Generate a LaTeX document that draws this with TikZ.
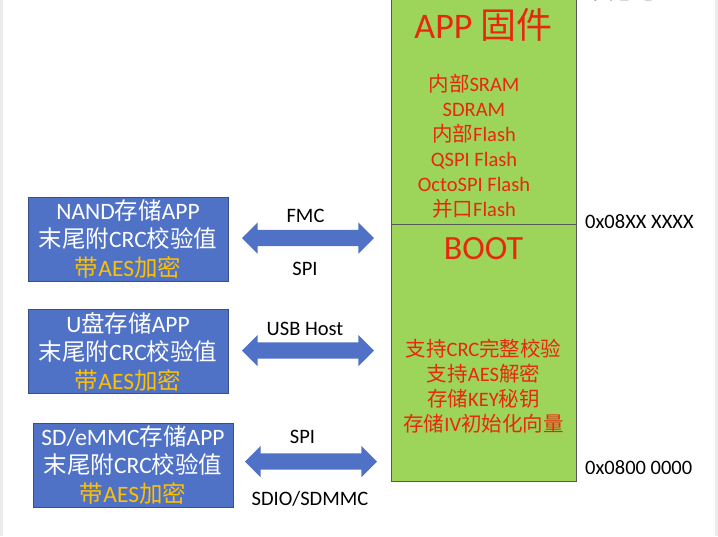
\documentclass[tikz,border=0pt]{standalone}
\usepackage{fontspec}
\setmainfont{Carlito}
\newfontfamily\cjk{Noto Sans CJK SC}
\usetikzlibrary{shapes.arrows}
\definecolor{boxblue}{HTML}{4F71C6}
\definecolor{bootgreen}{HTML}{9DD45A}
\definecolor{firmred}{HTML}{E8280E}
\definecolor{aesyellow}{HTML}{FFC000}
\newcommand{\zh}[1]{{\cjk #1}}
\tikzset{
  storebox/.style={fill=boxblue, draw=boxblue!70!black, line width=0.8pt, text=white,
    minimum width=200pt, minimum height=84pt, inner sep=0pt, align=center,
    font=\fontsize{23.5}{28.5}\selectfont},
  busarrow/.style={double arrow, fill=boxblue, draw=none, minimum height=132pt,
    inner xsep=0pt, inner ysep=8pt, double arrow head extend=7.5pt},
  buslabel/.style={inner sep=0pt, font=\fontsize{20.5}{24}\selectfont},
  memtext/.style={text=firmred, align=center, inner sep=0pt, font=\fontsize{20.5}{25}\selectfont},
  addr/.style={anchor=west, inner sep=0pt, font=\fontsize{20.5}{24}\selectfont}
}
\begin{document}
\begin{tikzpicture}[x=1pt,y=-1pt]
\useasboundingbox (0,0) rectangle (718,536);
\clip (0,0) rectangle (718,536);
\fill[white] (0,0) rectangle (718,536);
\fill[black!8] (0,0) rectangle (3,536);
\fill[black!8] (715,0) rectangle (718,536);

% memory map
\draw[fill=bootgreen, draw=black!65] (391,-5) rectangle (576,224);
\draw[fill=bootgreen, draw=black!65] (391,224) rectangle (576,481);
\node[memtext, font=\fontsize{36}{40}\selectfont] (apptitle) at (483.5,25) {APP \zh{固件}};
\node[memtext] (applist) at (474,146.5) {\zh{内部}SRAM\\SDRAM\\\zh{内部}Flash\\QSPI Flash\\OctoSPI Flash\\\zh{并口}Flash};
\node[memtext, font=\fontsize{34}{40}\selectfont] (boottitle) at (483.5,249) {BOOT};
\node[memtext] (bootlist) at (483.5,386) {\zh{支持}CRC\zh{完整校验}\\\zh{支持}AES\zh{解密}\\\zh{存储}KEY\zh{秘钥}\\\zh{存储}IV\zh{初始化向量}};
\node[inner sep=0pt, font=\cjk\fontsize{20.5}{24}\selectfont] (addrother) at (634,-8) {其它地址};
\node[addr] (addrtop) at (585,221.5) {0x08XX XXXX};
\node[addr] (addrbase) at (585,468) {0x0800 0000};

% storage
\node[storebox] (nandbox) at (128,239) {NAND\zh{存储}APP\\\zh{末尾附}CRC\zh{校验值}\\\textcolor{aesyellow}{\zh{带}AES\zh{加密}}};
\node[storebox] (usbbox) at (128,351.5) {U\zh{盘存储}APP\\\zh{末尾附}CRC\zh{校验值}\\\textcolor{aesyellow}{\zh{带}AES\zh{加密}}};
\node[storebox] (sdbox) at (133,465) {SD/eMMC\zh{存储}APP\\\zh{末尾附}CRC\zh{校验值}\\\textcolor{aesyellow}{\zh{带}AES\zh{加密}}};

% buses
\node[busarrow] (nandbus) at (308,238) {};
\node[busarrow] (usbbus) at (308,350.5) {};
\node[busarrow] (sdbus) at (311,461.5) {};
\node[buslabel] (fmc) at (305.5,215.5) {FMC};
\node[buslabel] (nandspi) at (305,268.5) {SPI};
\node[buslabel] (usbhost) at (305,329) {USB Host};
\node[buslabel] (sdspi) at (302.5,436.5) {SPI};
\node[buslabel] (sdio) at (310,499) {SDIO/SDMMC};
\end{tikzpicture}
\end{document}
